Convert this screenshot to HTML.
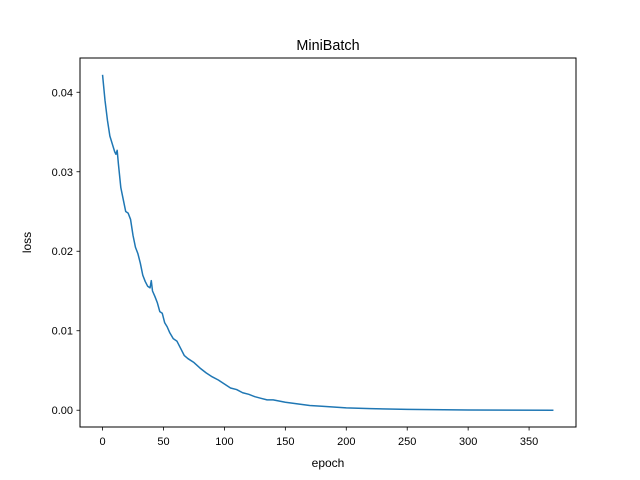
<!DOCTYPE html>
<html><head><meta charset="utf-8"><style>
body{margin:0;background:#fff;}
svg{display:block;font-family:"Liberation Sans","DejaVu Sans",sans-serif;}
</style></head><body>
<svg id="chart" width="640" height="480">
<rect x="0" y="0" width="640" height="480" fill="#fff"/>
<text x="328" y="50" text-anchor="middle" font-size="14.4">MiniBatch</text>
<g id="plot"></g>
<rect x="80" y="58" width="496" height="369" fill="none" stroke="#000" stroke-width="1"/>
<text x="328" y="467" text-anchor="middle" font-size="12">epoch</text>
<text transform="translate(31,242.5) rotate(-90)" text-anchor="middle" font-size="12">loss</text>
</svg>
<script>
const epochs=[0,2,4,6,8,10,11,12,13,15,17,19,21,23,25,27,29,31,33,35,37,39,40,41,43,45,47,49,51,53,55,58,61,64,67,70,75,80,85,90,95,100,105,110,115,120,125,130,135,140,150,160,170,180,200,220,250,300,370];
const loss=[0.0422,0.039,0.0365,0.0345,0.0335,0.0325,0.0322,0.0327,0.031,0.028,0.0265,0.025,0.0248,0.024,0.022,0.0205,0.0197,0.0185,0.017,0.0162,0.0156,0.0154,0.0163,0.015,0.0143,0.0135,0.0124,0.0122,0.011,0.0105,0.0098,0.009,0.0087,0.0078,0.0069,0.0065,0.006,0.0053,0.0047,0.0042,0.0038,0.0033,0.0028,0.0026,0.0022,0.002,0.0017,0.0015,0.0013,0.0013,0.001,0.0008,0.0006,0.0005,0.0003,0.0002,0.0001,0.00003,0.0];
const xTicks=[0,50,100,150,200,250,300,350];
const yTicks=[0,0.01,0.02,0.03,0.04];
const yTickLabels=["0.00","0.01","0.02","0.03","0.04"];
const NS="http://www.w3.org/2000/svg";
const L=80,R=576,T=58,B=427;
const xmin=Math.min(...epochs),xmax=Math.max(...epochs),xm=(xmax-xmin)*0.05;
const ymin=Math.min(...loss),ymax=Math.max(...loss),ym=(ymax-ymin)*0.05;
function sx(v){return L+(v-(xmin-xm))/((xmax+xm)-(xmin-xm))*(R-L);}
function sy(v){return B-(v-(ymin-ym))/((ymax+ym)-(ymin-ym))*(B-T);}
const g=document.getElementById('plot');
function mk(t,a){const e=document.createElementNS(NS,t);for(const k in a)e.setAttribute(k,a[k]);g.appendChild(e);return e;}
xTicks.forEach(v=>{
 const x=sx(v);
 const t=mk('line',{x1:x,x2:x,y1:B,y2:B+3.5,stroke:'#000','stroke-width':0.8});
 
 
 const lb=mk('text',{x:x,y:B+18,'text-anchor':'middle','font-size':11});
 lb.textContent=v;
 
 
});
yTicks.forEach((v,i)=>{
 const y=sy(v);
 const t=mk('line',{x1:L-3.5,x2:L,y1:y,y2:y,stroke:'#000','stroke-width':0.8});
 
 
 const lb=mk('text',{x:L-7,y:y+4,'text-anchor':'end','font-size':11});
 lb.textContent=yTickLabels[i];
 
 
});
const d=epochs.map((e,i)=>(i?'L':'M')+sx(e).toFixed(2)+','+sy(loss[i]).toFixed(2)).join('');
const p=mk('path',{d:d,fill:'none',stroke:'#1f77b4','stroke-width':1.5,'stroke-linejoin':'round'});


</script>
</body></html>
